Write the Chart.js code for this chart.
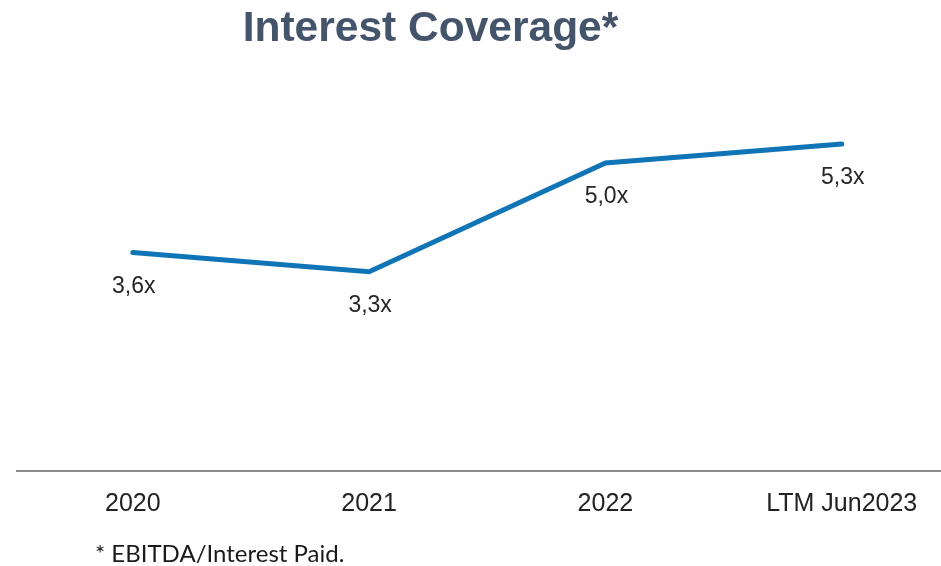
<!DOCTYPE html>
<html>
<head>
<meta charset="utf-8">
<script src="https://cdn.jsdelivr.net/npm/chart.js@4/dist/chart.umd.min.js"></script>
<style>
  html, body { margin: 0; padding: 0; background: #ffffff; }
  #wrap { position: relative; width: 941px; height: 566px; overflow: hidden; }
  #title {
    position: absolute; left: 0; width: 861px; top: 2px; text-align: center;
    font-family: "Liberation Sans", Arial, sans-serif; font-weight: bold;
    font-size: 42.5px; color: #44546A; margin: 0; line-height: 50px;
  }
  #note {
    position: absolute; left: 95px; top: 538px;
    font-family: Lato, "Open Sans", sans-serif; font-size: 24px; color: #1a1a1a;
    line-height: 30px;
  }
  #chart { position: absolute; left: 0; top: 0; }
</style>
</head>
<body>
<div id="wrap">
  <canvas id="chart" width="941" height="566"></canvas>
  <h1 id="title">Interest Coverage*</h1>
  <div id="note">* EBITDA/Interest Paid.</div>
</div>
<script>
var categories = ['2020', '2021', '2022', 'LTM Jun2023'];
var coverage = [3.6, 3.3, 5.0, 5.3];
var valueLabels = ['3,6x', '3,3x', '5,0x', '5,3x'];

// draws the "3,6x" style labels under each point
var pointLabels = {
    id: 'pointLabels',
    afterDatasetsDraw: function (chart) {
        var ctx = chart.ctx;
        var meta = chart.getDatasetMeta(0);
        ctx.save();
        ctx.font = '23px "Liberation Sans", Arial, sans-serif';
        ctx.fillStyle = '#262626';
        ctx.textAlign = 'center';
        ctx.textBaseline = 'middle';
        meta.data.forEach(function (pt, i) {
            ctx.fillText(valueLabels[i], pt.x + 1, pt.y + 34);
        });
        ctx.restore();
    }
};

var ctx = document.getElementById('chart').getContext('2d');
var chartInstance = new Chart(ctx, {
    type: 'line',
    data: {
        datasets: [{
            data: coverage.map(function (v, i) { return { x: i, y: v }; }),
            borderColor: '#0F75B6',
            borderWidth: 5,
            borderCapStyle: 'round',
            borderJoinStyle: 'miter',
            pointRadius: 0,
            tension: 0,
            fill: false
        }]
    },
    options: {
        responsive: false,
        animation: false,
        layout: { padding: { left: 17, right: 0, top: 80, bottom: 29 } },
        plugins: {
            legend: { display: false },
            tooltip: { enabled: false }
        },
        scales: {
            x: {
                type: 'linear',
                min: -0.49,
                max: 3.42,
                grid: { display: false, drawTicks: false },
                border: { display: true, color: '#8C8C8C', width: 2 },
                afterBuildTicks: function (axis) {
                    axis.ticks = categories.map(function (c, i) { return { value: i }; });
                },
                ticks: {
                    padding: 18,
                    color: '#222222',
                    font: { family: '"Liberation Sans", Arial, sans-serif', size: 25 },
                    maxRotation: 0,
                    autoSkip: false,
                    callback: function (value) { return categories[value]; }
                }
            },
            y: {
                display: false,
                min: 0.18,
                max: 6.3
            }
        }
    },
    plugins: [pointLabels]
});
</script>
</body>
</html>
